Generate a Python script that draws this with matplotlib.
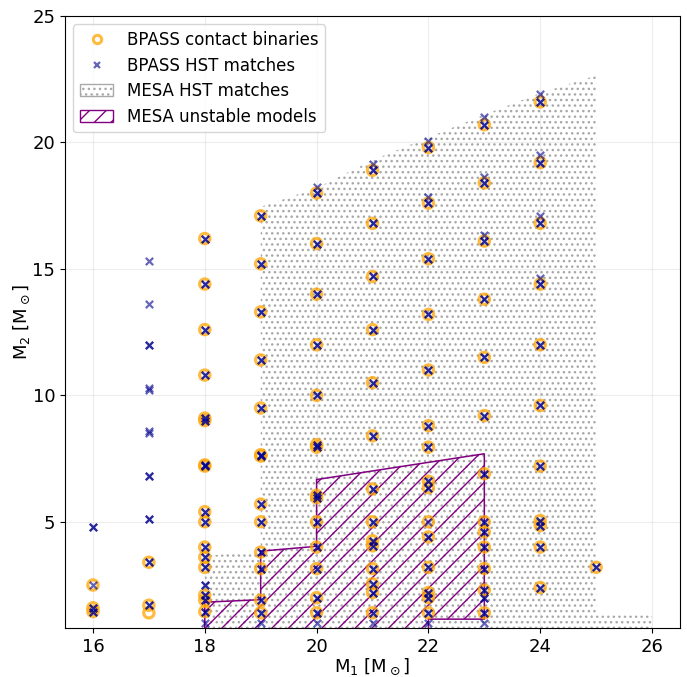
import numpy as np
import matplotlib.pyplot as plt
from matplotlib.patches import Patch
from matplotlib.lines import Line2D

# BPASS contact binaries (M1, M2)
m1_contact = ([16] * 3 + [17] * 3 + [18] * 16 + [19] * 13 + [20] * 14 + [21] * 14
              + [22] * 15 + [23] * 13 + [24] * 11 + [25])
m2_contact = [2.5, 1.6, 1.45,
              3.4, 1.7, 1.4,
              16.2, 14.4, 12.6, 10.8, 9.1, 9.0, 7.25, 7.2, 5.4, 5.0, 4.0, 3.6, 3.2, 2.1, 1.9, 1.45,
              17.1, 15.2, 13.3, 11.4, 9.5, 7.65, 7.6, 5.7, 5.0, 3.8, 3.15, 1.9, 1.4,
              18.0, 16.0, 14.0, 12.0, 10.0, 8.05, 7.95, 6.05, 5.95, 5.0, 4.0, 3.15, 2.0, 1.4,
              18.9, 16.8, 14.7, 12.6, 10.5, 8.4, 6.3, 5.0, 4.25, 4.05, 3.15, 2.55, 2.2, 1.4,
              19.8, 17.6, 15.4, 13.2, 11.0, 8.8, 7.95, 6.6, 6.35, 5.0, 4.4, 3.2, 2.2, 2.0, 1.4,
              20.7, 18.4, 16.1, 13.8, 11.5, 9.2, 6.9, 5.0, 4.6, 4.0, 3.15, 2.3, 1.4,
              21.6, 19.2, 16.8, 14.4, 12.0, 9.6, 7.2, 5.05, 4.85, 4.0, 2.4,
              3.2]

# BPASS HST matches: points outside / above the contact binaries
m1_hst_extra = [16, 17, 17, 17, 17, 17, 17, 17, 17, 17, 18,
                20, 21, 22, 22, 23, 23, 23, 24, 24, 24, 24,
                18, 19, 20, 21, 22, 23, 23]
m2_hst_extra = [4.8, 15.3, 13.6, 12.0, 10.3, 10.2, 8.6, 8.5, 6.8, 5.1, 2.5,
                18.25, 19.15, 20.05, 17.85, 21.0, 18.65, 16.35, 21.9, 19.5, 17.1, 14.65,
                1.0, 1.0, 1.0, 1.0, 1.0, 1.0, 2.0]
n_hst_extra = [2, 1, 1, 2, 1, 1, 1, 1, 2, 2, 2,
               1, 1, 1, 1, 1, 1, 1, 1, 1, 1, 1,
               1, 1, 1, 1, 1, 1, 2]
# HST matches that coincide with contact binaries (number of overlapping models)
no_hst_at = [(17, 1.4)]
single_hst_at = [(16, 2.5), (22, 5.0)]

# MESA HST matches region outline
mesa_hst_x = [18, 18, 19, 19, 20, 21, 22, 23, 24, 25, 25, 26, 26]
mesa_hst_y = [0.0, 3.65, 3.85, 17.45, 18.2, 19.3, 20.2, 21.1, 21.95, 22.65, 1.3, 1.3, 0.0]

# MESA unstable models region outline
mesa_unst_x = [18, 18, 19, 19, 20, 20, 23, 23, 22, 22]
mesa_unst_y = [0.0, 1.82, 1.92, 3.84, 4.03, 6.67, 7.69, 1.15, 1.15, 0.0]

# build HST arrays
m1_hst, m2_hst, n_hst = [], [], []
for a, b in zip(m1_contact, m2_contact):
    if (a, b) in no_hst_at:
        continue
    m1_hst.append(a)
    m2_hst.append(b)
    n_hst.append(1 if (a, b) in single_hst_at else 2)
m1_hst += m1_hst_extra
m2_hst += m2_hst_extra
n_hst += n_hst_extra
m1_hst = np.repeat(m1_hst, n_hst)
m2_hst = np.repeat(m2_hst, n_hst)

fig = plt.figure(figsize=(6.87, 6.77), dpi=100)
ax = fig.add_axes([65 / 687, 1 - 628 / 677, 615 / 687, 612 / 677])

ax.grid(True, color='lightgray', alpha=0.4, lw=0.8)
ax.set_axisbelow(True)

ax.fill(mesa_hst_x, mesa_hst_y, facecolor='none', edgecolor='#a8a8a8', hatch='...', lw=0, zorder=1)
ax.fill(mesa_unst_x, mesa_unst_y, facecolor='none', edgecolor='purple', hatch='//', lw=1.1, zorder=2)

ax.scatter(m1_contact, m2_contact, s=55, facecolors='none', edgecolors='orange',
           linewidths=2.3, alpha=0.75, zorder=3)
ax.scatter(m1_hst, m2_hst, s=28, marker='x', color='darkblue', linewidths=1.6,
           alpha=0.6, zorder=4)

ax.set_xlim(15.5, 26.5)
ax.set_ylim(0.8, 25)
ax.set_xticks([16, 18, 20, 22, 24, 26])
ax.set_yticks([5, 10, 15, 20, 25])
ax.tick_params(labelsize=13)
ax.set_xlabel(r'M$_1$ [M$_\odot$]', fontsize=13, labelpad=1)
ax.set_ylabel(r'M$_2$ [M$_\odot$]', fontsize=13, labelpad=0)

handles = [
    Line2D([], [], ls='none', marker='o', ms=6, mfc='none', mec='orange', mew=2.2, alpha=0.75),
    Line2D([], [], ls='none', marker='x', ms=5, color='darkblue', mew=1.6, alpha=0.6),
    Patch(facecolor='none', edgecolor='darkgray', hatch='...', lw=1),
    Patch(facecolor='none', edgecolor='purple', hatch='//', lw=1),
]
labels = ['BPASS contact binaries', 'BPASS HST matches', 'MESA HST matches', 'MESA unstable models']
ax.legend(handles, labels, loc='upper left', fontsize=12, labelspacing=0.45)

fig.savefig('out.png', dpi=100)
